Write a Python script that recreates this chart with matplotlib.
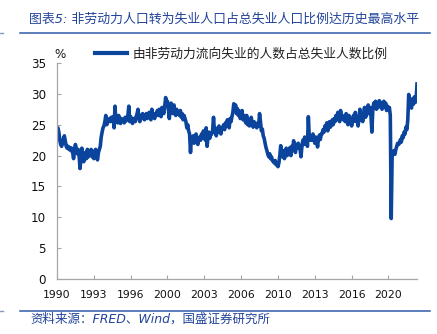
import matplotlib
matplotlib.use("Agg")
import matplotlib.pyplot as plt
from matplotlib.lines import Line2D

# 月度数据 1990-01 ~ 2022-08，由非劳动力流向失业的人数占总失业人数比例(%)
v1990 = [24.0, 24.5, 23.8, 22.5, 21.8, 21.5, 22.0, 22.8, 23.2, 22.3, 21.5, 21.2]
v1991 = [21.5, 21.0, 21.3, 20.8, 21.2, 20.5, 19.5, 20.8, 21.8, 21.0, 20.3, 21.0]
v1992 = [20.0, 17.9, 19.5, 21.2, 20.0, 19.0, 19.8, 20.5, 19.5, 21.0, 19.8, 20.5]
v1993 = [20.5, 21.0, 19.8, 20.3, 19.5, 20.8, 21.0, 20.0, 19.3, 20.5, 21.0, 21.5]
v1994 = [23.0, 23.8, 24.5, 24.8, 25.5, 26.5, 25.0, 25.5, 25.8, 26.0, 25.5, 26.2]
v1995 = [25.8, 26.3, 24.5, 28.0, 25.5, 26.0, 25.3, 26.5, 25.8, 25.2, 26.0, 25.6]
v1996 = [25.8, 25.3, 26.2, 25.6, 26.0, 26.5, 28.0, 25.5, 26.3, 25.8, 25.2, 26.0]
v1997 = [26.0, 25.5, 26.3, 26.8, 27.5, 26.0, 25.5, 26.5, 26.0, 26.8, 26.2, 25.8]
v1998 = [26.3, 26.8, 26.0, 26.5, 27.0, 26.2, 25.8, 27.5, 26.5, 26.8, 26.0, 26.7]
v1999 = [26.8, 27.3, 26.5, 27.5, 27.0, 26.3, 27.8, 27.2, 26.8, 28.0, 29.4, 28.5]
v2000 = [28.8, 27.5, 26.0, 27.8, 28.5, 27.3, 26.8, 28.2, 27.0, 26.5, 27.5, 26.8]
v2001 = [27.0, 26.5, 27.3, 26.2, 26.8, 25.8, 26.5, 26.0, 25.5, 24.5, 25.0, 24.0]
v2002 = [23.5, 20.5, 23.0, 22.3, 23.2, 22.0, 22.8, 23.5, 22.5, 21.8, 22.8, 23.0]
v2003 = [22.5, 23.5, 22.8, 24.0, 23.2, 22.5, 24.5, 21.5, 23.0, 23.8, 22.8, 23.5]
v2004 = [23.5, 24.0, 26.2, 23.8, 24.5, 23.2, 24.3, 23.8, 24.8, 24.0, 23.5, 24.5]
v2005 = [24.5, 25.0, 24.2, 25.3, 24.8, 25.8, 25.2, 24.5, 26.0, 25.5, 26.3, 27.0]
v2006 = [28.4, 27.5, 28.2, 26.8, 27.6, 26.5, 27.2, 26.0, 26.5, 27.3, 25.8, 26.5]
v2007 = [26.0, 25.3, 26.5, 25.0, 25.8, 24.8, 25.5, 26.2, 25.0, 24.6, 25.5, 25.0]
v2008 = [25.0, 24.5, 25.3, 24.8, 26.8, 25.5, 24.0, 24.3, 23.2, 22.8, 22.0, 21.3]
v2009 = [20.8, 20.2, 19.8, 20.3, 19.5, 19.8, 19.2, 19.0, 18.8, 19.2, 18.5, 18.8]
v2010 = [18.2, 18.8, 20.0, 21.6, 20.5, 19.8, 20.8, 19.5, 20.3, 21.2, 20.0, 20.6]
v2011 = [20.5, 21.3, 20.0, 21.5, 20.8, 22.4, 21.0, 20.5, 21.8, 21.2, 22.0, 21.5]
v2012 = [21.0, 19.8, 21.5, 22.5, 21.8, 23.0, 22.3, 22.8, 21.5, 26.3, 23.0, 22.5]
v2013 = [23.2, 22.5, 23.5, 22.8, 22.0, 23.0, 22.5, 21.4, 22.8, 23.3, 22.6, 23.5]
v2014 = [23.5, 24.2, 23.8, 24.8, 24.3, 25.3, 24.0, 24.8, 25.5, 24.6, 25.2, 25.8]
v2015 = [25.0, 26.0, 25.5, 26.5, 25.8, 27.0, 26.2, 25.5, 27.3, 26.0, 26.5, 25.8]
v2016 = [26.3, 25.5, 26.8, 25.8, 25.0, 26.5, 25.3, 26.0, 24.8, 25.8, 26.5, 25.6]
v2017 = [27.0, 25.5, 26.3, 24.8, 26.0, 27.5, 25.8, 26.5, 25.5, 26.8, 27.8, 26.2]
v2018 = [26.5, 27.5, 28.2, 26.8, 27.8, 26.5, 23.8, 27.5, 28.5, 27.8, 28.8, 27.5]
v2019 = [28.5, 27.8, 28.9, 28.0, 28.6, 27.5, 28.3, 28.8, 27.8, 28.5, 27.3, 28.0]
v2020 = [27.5, 27.8, 26.5, 9.8, 20.0, 20.5, 20.8, 20.2, 21.0, 21.5, 22.0, 21.8]
v2021 = [22.0, 22.6, 22.2, 23.2, 22.9, 23.8, 23.5, 24.6, 24.2, 25.8, 29.9, 27.8]
v2022 = [28.4, 27.7, 29.2, 28.3, 29.5, 28.6, 29.0, 31.6]

values = (v1990 + v1991 + v1992 + v1993 + v1994 + v1995 + v1996 + v1997 + v1998
          + v1999 + v2000 + v2001 + v2002 + v2003 + v2004 + v2005 + v2006 + v2007
          + v2008 + v2009 + v2010 + v2011 + v2012 + v2013 + v2014 + v2015 + v2016
          + v2017 + v2018 + v2019 + v2020 + v2021 + v2022)
months = list(range(len(values)))

# 横轴每40个月一个标签
tick_labels = ["1990", "1993", "1996", "2000", "2003", "2006",
               "2010", "2013", "2016", "2020"]
tick_pos = [i * 40 for i in range(len(tick_labels))]

series_name = "由非劳动力流向失业的人数占总失业人数比例"
title = "图表5: 非劳动力人口转为失业人口占总失业人口比例达历史最高水平"
source = "资料来源：FRED、Wind，国盛证券研究所"

cjk = ["DejaVu Sans", "Noto Sans CJK SC"]
blue = "#0a449d"
navy = "#23449a"
axis_gray = "#a6a6a6"

fig = plt.figure(figsize=(4.37, 3.34), dpi=100)
ax = fig.add_axes([57 / 437, 1 - 279 / 334, 360 / 437, 216 / 334])

ax.plot(months, values, color=blue, lw=2.6, solid_joinstyle="round",
        label=series_name)

ax.set_xlim(0, len(values) - 1)
ax.set_ylim(0, 35)
ax.set_yticks(range(0, 36, 5))
ax.set_xticks(tick_pos)
ax.set_xticklabels(tick_labels)

for s in ["top", "right"]:
    ax.spines[s].set_visible(False)
for s in ["left", "bottom"]:
    ax.spines[s].set_color(axis_gray)
    ax.spines[s].set_linewidth(0.9)

ax.tick_params(axis="both", direction="in", length=3, width=0.8,
               color=axis_gray, labelcolor="#111111")
ax.tick_params(axis="x", labelsize=7.8, pad=8)
ax.tick_params(axis="y", labelsize=8.6, pad=8)

fig.text(60 / 437, 1 - 55 / 334, "%", ha="center", va="center",
         fontsize=8.6, color="#111111")

leg = fig.legend(loc="center left", bbox_to_anchor=(95 / 437, 1 - 54 / 334),
                 frameon=False, borderpad=0, borderaxespad=0,
                 handlelength=2.5, handletextpad=0.45,
                 prop={"family": ["Noto Sans CJK SC", "DejaVu Sans"], "size": 9.2})
for t in leg.get_texts():
    t.set_color("#222222")
for h in leg.get_lines():
    h.set_linewidth(3)

fig.text(29 / 437, 1 - 19 / 334, title, ha="left", va="center",
         fontsize=9.3, color=navy, style="italic", family=cjk)
fig.text(30 / 437, 1 - 319 / 334, source, ha="left", va="center",
         fontsize=9, color=navy, style="italic", family=cjk)

# 标题和来源分隔线
fig.add_artist(Line2D([20 / 437, 430 / 437], [1 - 33 / 334] * 2,
                      color="#2f5aa8", lw=1.1, transform=fig.transFigure))
fig.add_artist(Line2D([20 / 437, 430 / 437], [1 - 311 / 334] * 2,
                      color="#2f5aa8", lw=1.1, transform=fig.transFigure))
fig.add_artist(Line2D([0, 3 / 437], [1 - 33 / 334] * 2,
                      color="#8899bb", lw=1.0, transform=fig.transFigure))
fig.add_artist(Line2D([0, 3 / 437], [1 - 311 / 334] * 2,
                      color="#8899bb", lw=1.0, transform=fig.transFigure))

fig.savefig("out.png", dpi=100)
